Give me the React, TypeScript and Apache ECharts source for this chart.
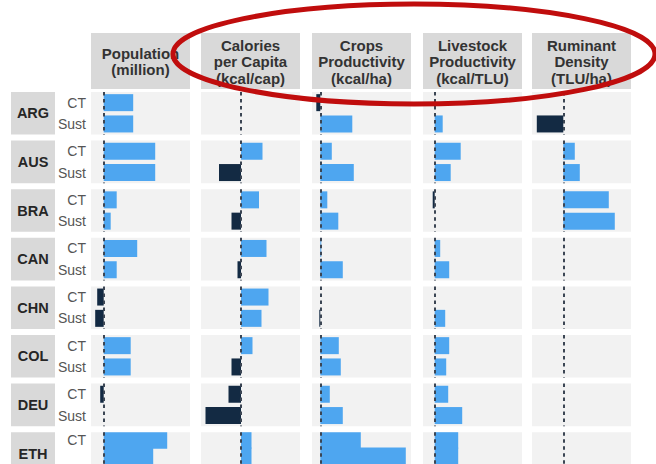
import React, { useEffect, useRef } from "react";
import * as echarts from "echarts";

const countries = ["ARG", "AUS", "BRA", "CAN", "CHN", "COL", "DEU", "ETH"];
const scenarios = ["CT", "Sust"];
const metricTitles = [
  "Population\n(million)",
  "Calories\nper Capita\n(kcal/cap)",
  "Crops\nProductivity\n(kcal/ha)",
  "Livestock\nProductivity\n(kcal/TLU)",
  "Ruminant\nDensity\n(TLU/ha)",
];
// relative change (%), [CT, Sust] per country
const population = [[59, 59], [103, 103], [26, 14], [67, 26], [-13, -17], [54, 54], [-7, 0], [127, 99]];
const calories = [[0, 0], [43, -44], [36, -19], [51, -7], [55, 41], [23, -19], [-25, -71], [21, 21]];
const crops = [[-8, 64], [23, 67], [14, 36], [2, 45], [0, -2], [37, 41], [19, 45], [81, 171]];
const livestock = [[0, 16], [52, 32], [-4, 0], [11, 29], [0, 21], [29, 23], [27, 55], [47, 47]];
const ruminant = [[0, -53], [23, 33], [91, 103], [0, 0], [0, 0], [0, 0], [0, 0], [0, 0]];
const axisMin = [-25.4, -80, -16.6, -23.4, -62.6];
const axisMax = [172.6, 118, 181.4, 174.6, 135.4];

const metrics = [population, calories, crops, livestock, ruminant];

const BLUE = "#4ea6f0";
const NAVY = "#132a43";
const FONT = '"Liberation Sans", Arial, sans-serif';

export default function App() {
  const ref = useRef<HTMLDivElement>(null);
  useEffect(() => {
    if (!ref.current) return;
    const chart = echarts.init(ref.current, undefined, { renderer: "svg" });
    const colLeft = [91, 201, 312, 423, 532];
    const panelW = 99;
    const rowTop0 = 92;
    const rowStep = 48.6;
    const panelH = 42.6;

    const grids: any[] = [];
    const xAxes: any[] = [];
    const yAxes: any[] = [];
    const series: any[] = [];
    const graphic: any[] = [];

    metricTitles.forEach((t, c) => {
      graphic.push({
        type: "rect",
        shape: { x: colLeft[c], y: 33, width: panelW, height: 56 },
        style: { fill: "#d9d9d9" },
        z: 1,
      });
      graphic.push({
        type: "text",
        x: colLeft[c] + panelW / 2,
        y: 61.5,
        z: 2,
        style: {
          text: t,
          font: `bold 15px ${FONT}`,
          fill: "#333333",
          align: "center",
          textAlign: "center",
          verticalAlign: "middle",
          textVerticalAlign: "middle",
          lineHeight: 16.5,
        },
      });
    });

    countries.forEach((name, r) => {
      const top = rowTop0 + r * rowStep;
      graphic.push({
        type: "rect",
        shape: { x: 11, y: top, width: 44, height: panelH },
        style: { fill: "#d9d9d9" },
        z: 1,
      });
      graphic.push({
        type: "text",
        x: 33,
        y: top + panelH / 2,
        z: 2,
        style: {
          text: name,
          font: `bold 14.5px ${FONT}`,
          fill: "#262626",
          align: "center",
          textAlign: "center",
          verticalAlign: "middle",
          textVerticalAlign: "middle",
        },
      });
      metrics.forEach((m, c) => {
        const idx = grids.length;
        grids.push({
          left: colLeft[c],
          top: top,
          width: panelW,
          height: panelH,
          show: true,
          backgroundColor: "#f2f2f2",
          borderWidth: 0,
        });
        xAxes.push({
          type: "value",
          gridIndex: idx,
          min: axisMin[c],
          max: axisMax[c],
          show: false,
          splitLine: { show: false },
        });
        yAxes.push({
          type: "category",
          gridIndex: idx,
          data: scenarios,
          inverse: true,
          axisLine: { show: false },
          axisTick: { show: false },
          splitLine: { show: false },
          axisLabel: {
            show: c === 0,
            margin: 5,
            fontSize: 14,
            fontFamily: FONT,
            color: "#555555",
          },
        });
        series.push({
          type: "bar",
          xAxisIndex: idx,
          yAxisIndex: idx,
          barWidth: 17,
          data: m[r].map((v) => ({
            value: v,
            itemStyle: { color: v < 0 ? NAVY : BLUE },
          })),
          markLine: {
            silent: true,
            symbol: "none",
            label: { show: false },
            lineStyle: { type: [3.5, 3.5], width: 2, color: "#3c4654" },
            data: [{ xAxis: 0 }],
          },
        });
      });
    });

    graphic.push({
      type: "ellipse",
      shape: { cx: 414, cy: 54, rx: 241, ry: 50 },
      style: { fill: "none", stroke: "#c00d0d", lineWidth: 5 },
      z: 100,
    });

    chart.setOption({
      animation: false,
      backgroundColor: "#ffffff",
      grid: grids,
      xAxis: xAxes,
      yAxis: yAxes,
      series,
      graphic: { elements: graphic },
    });
    return () => chart.dispose();
  }, []);
  return (
    <div
      ref={ref}
      style={{ position: "absolute", left: 0, top: 0, width: 656, height: 464 }}
    />
  );
}
